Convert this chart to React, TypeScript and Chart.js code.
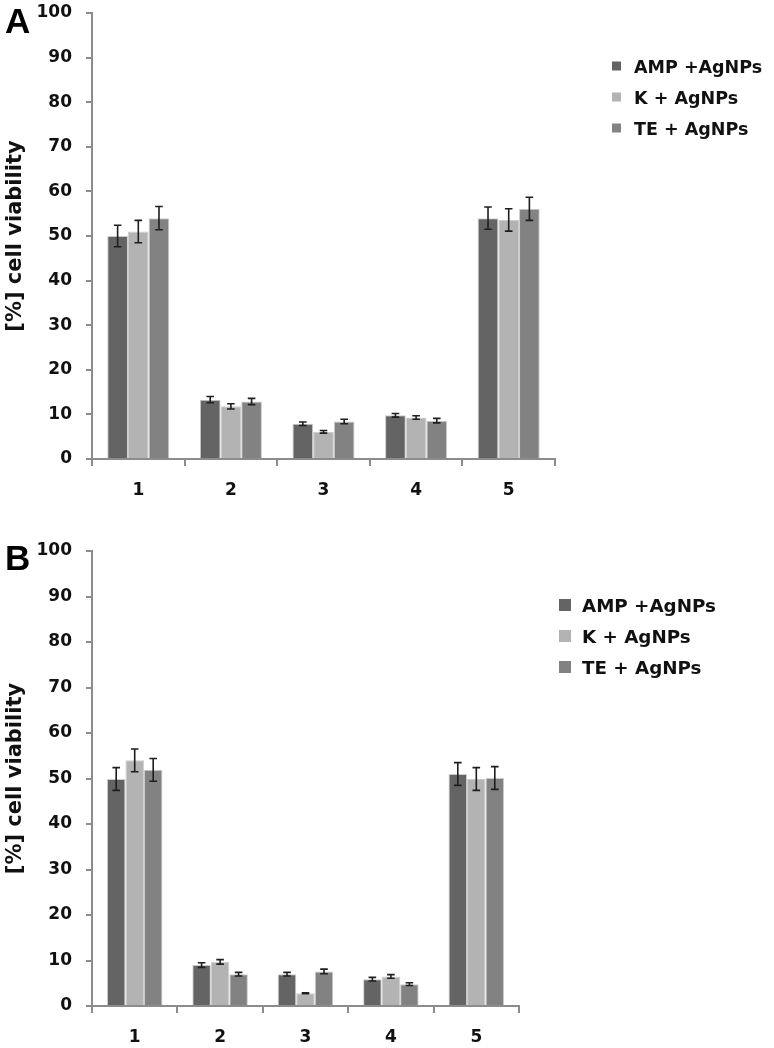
import React, { useEffect, useRef } from "react";
import { Chart, registerables } from "chart.js";
Chart.register(...registerables);

const categories = ["1", "2", "3", "4", "5"];
const seriesNames = ["AMP +AgNPs", "K + AgNPs", "TE + AgNPs"];
const seriesColors = ["#646464", "#b3b3b3", "#828282"];
const yMin = 0;
const yMax = 100;
const yStep = 10;

// Panel A
const ampA = [50.0, 13.3, 7.9, 9.8, 54.0];
const kA = [51.0, 11.8, 6.1, 9.3, 53.6];
const teA = [54.0, 12.9, 8.4, 8.6, 56.1];
const ampErrA = [2.4, 0.7, 0.4, 0.4, 2.5];
const kErrA = [2.5, 0.6, 0.3, 0.4, 2.5];
const teErrA = [2.6, 0.7, 0.5, 0.5, 2.6];

// Panel B
const ampB = [49.9, 9.0, 7.0, 5.9, 51.0];
const kB = [54.0, 9.7, 2.8, 6.5, 49.9];
const teB = [51.9, 7.0, 7.6, 4.8, 50.1];
const ampErrB = [2.5, 0.5, 0.4, 0.4, 2.5];
const kErrB = [2.5, 0.5, 0.1, 0.4, 2.5];
const teErrB = [2.5, 0.4, 0.5, 0.3, 2.5];

const FONT = "'DejaVu Sans', sans-serif";
const AXIS_GRAY = "#8c8c8c";

type PanelCfg = {
  letter: string;
  values: number[][];
  errs: number[][];
  width: number;
  height: number;
  top: number;
  right: number;
  bottom: number;
  left: number;
  catPct: number;
  letterY: number;
  legend: { boxX: number; box: number; textX: number; y0: number; dy: number; size: number };
};

const panels: PanelCfg[] = [
  {
    letter: "A",
    values: [ampA, kA, teA],
    errs: [ampErrA, kErrA, teErrA],
    width: 774,
    height: 520,
    top: 13,
    right: 555,
    bottom: 459,
    left: 92,
    catPct: 0.67,
    letterY: 33,
    legend: { boxX: 612, box: 9, textX: 634, y0: 68, dy: 31, size: 17.5 },
  },
  {
    letter: "B",
    values: [ampB, kB, teB],
    errs: [ampErrB, kErrB, teErrB],
    width: 774,
    height: 528,
    top: 31,
    right: 519,
    bottom: 486,
    left: 92,
    catPct: 0.65,
    letterY: 50,
    legend: { boxX: 559, box: 12, textX: 582, y0: 87, dy: 31, size: 18.3 },
  },
];

function makePlugin(cfg: PanelCfg) {
  return {
    id: "extras" + cfg.letter,
    afterDatasetsDraw(chart: any) {
      const ctx = chart.ctx;
      const yScale = chart.scales.y;
      ctx.save();
      ctx.strokeStyle = "#1e1e1e";
      ctx.lineWidth = 1.6;
      chart.data.datasets.forEach((ds: any, di: number) => {
        const meta = chart.getDatasetMeta(di);
        meta.data.forEach((el: any, i: number) => {
          const v = ds.data[i];
          const e = cfg.errs[di][i];
          const yt = yScale.getPixelForValue(v + e);
          const yb = yScale.getPixelForValue(v - e);
          const x = el.x;
          const cap = 3.8;
          ctx.beginPath();
          ctx.moveTo(x, yt);
          ctx.lineTo(x, yb);
          ctx.moveTo(x - cap, yt);
          ctx.lineTo(x + cap, yt);
          ctx.moveTo(x - cap, yb);
          ctx.lineTo(x + cap, yb);
          ctx.stroke();
        });
      });
      ctx.restore();
    },
    afterDraw(chart: any) {
      const ctx = chart.ctx;
      const lg = cfg.legend;
      ctx.save();
      ctx.font = `bold ${lg.size}px ${FONT}`;
      ctx.textBaseline = "middle";
      ctx.textAlign = "left";
      seriesNames.forEach((name, i) => {
        const y = lg.y0 + i * lg.dy;
        ctx.fillStyle = seriesColors[i];
        ctx.fillRect(lg.boxX, y - 2 - lg.box / 2, lg.box, lg.box);
        ctx.fillStyle = "#111";
        ctx.fillText(name, lg.textX, y);
      });
      ctx.font = `bold 35px 'Liberation Sans', Arial, sans-serif`;
      ctx.textBaseline = "alphabetic";
      ctx.fillStyle = "#000";
      ctx.fillText(cfg.letter, 5, cfg.letterY);
      ctx.restore();
    },
  };
}

function Panel({ cfg }: { cfg: PanelCfg }) {
  const ref = useRef<HTMLCanvasElement>(null);
  useEffect(() => {
    if (!ref.current) return;
    const chart = new Chart(ref.current, {
      type: "bar",
      data: {
        labels: categories,
        datasets: seriesNames.map((name, i) => ({
          label: name,
          data: cfg.values[i],
          backgroundColor: seriesColors[i],
          borderColor: "rgba(190,190,190,0.8)",
          borderWidth: 1,
          barPercentage: 1.0,
          categoryPercentage: cfg.catPct,
        })),
      },
      options: {
        responsive: false,
        animation: false,
        devicePixelRatio: 1,
        layout: {
          padding: { top: cfg.top, right: cfg.width - cfg.right, left: 0, bottom: 0 },
        },
        plugins: { legend: { display: false }, tooltip: { enabled: false } },
        scales: {
          x: {
            grid: {
              offset: true,
              drawOnChartArea: false,
              drawTicks: true,
              tickLength: 7,
              color: AXIS_GRAY,
              lineWidth: 2,
            },
            border: { color: AXIS_GRAY, width: 2 },
            ticks: {
              color: "#111",
              font: { family: FONT, size: 17, weight: "bold" },
              padding: 14,
            },
            afterFit: (scale: any) => {
              scale.height = cfg.height - cfg.bottom;
              scale.paddingLeft = 0;
              scale.paddingRight = 0;
            },
          },
          y: {
            min: yMin,
            max: yMax,
            grid: {
              drawOnChartArea: false,
              drawTicks: true,
              tickLength: 6,
              color: AXIS_GRAY,
              lineWidth: 2,
            },
            border: { color: AXIS_GRAY, width: 2 },
            ticks: {
              stepSize: yStep,
              color: "#111",
              font: { family: FONT, size: 17, weight: "bold" },
              padding: 14,
            },
            title: {
              display: true,
              text: "[%] cell viability",
              color: "#111",
              font: { family: FONT, size: 21, weight: "bold" },
              padding: { top: 3, bottom: 0 },
            },
            afterFit: (scale: any) => {
              scale.width = cfg.left;
              scale.paddingTop = 0;
              scale.paddingBottom = 0;
            },
          },
        },
      },
      plugins: [makePlugin(cfg)],
    } as any);
    return () => chart.destroy();
  }, [cfg]);
  return (
    <canvas
      ref={ref}
      width={cfg.width}
      height={cfg.height}
      style={{ display: "block", width: cfg.width, height: cfg.height }}
    />
  );
}

export default function App() {
  return (
    <div
      style={{
        position: "absolute",
        left: 0,
        top: 0,
        width: 774,
        height: 1048,
        background: "#fff",
      }}
    >
      {panels.map((p) => (
        <Panel key={p.letter} cfg={p} />
      ))}
    </div>
  );
}
